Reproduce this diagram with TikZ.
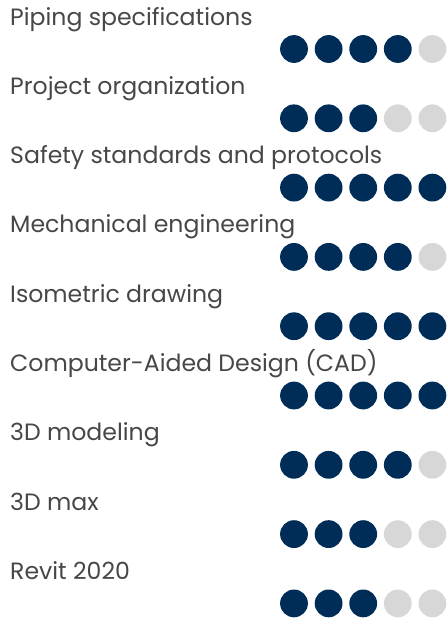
\documentclass[tikz,border=0pt]{standalone}
\usepackage{fontspec}
\setmainfont{Poppins}
\definecolor{navy}{HTML}{002D57}
\definecolor{lgray}{HTML}{D6D7D6}
\definecolor{txt}{HTML}{474747}
\begin{document}
\begin{tikzpicture}[x=1pt,y=-1pt,
  label/.style={anchor=base west,inner sep=0pt,text=txt,font=\fontsize{23.6}{23.6}\selectfont},
  on/.style={circle,fill=navy,minimum size=27.8pt,inner sep=0pt},
  off/.style={circle,fill=lgray,minimum size=27.8pt,inner sep=0pt}]
\useasboundingbox (0,0) rectangle (447,619);
\foreach \t/\n [count=\k] in {Piping specifications/4,Project organization/3,Safety standards and protocols/5,Mechanical engineering/4,Isometric drawing/5,Computer-Aided Design (CAD)/5,3D modeling/4,3D max/3,Revit 2020/3}{
  \node[label] (t\k) at (10,{25+(\k-1)*69.3}) {\t};
  \foreach \i in {1,...,5}{
    \ifnum\i>\n
      \node[off] (d\k\i) at ({294+(\i-1)*34.6},{49+(\k-1)*69.3}) {};
    \else
      \node[on] (d\k\i) at ({294+(\i-1)*34.6},{49+(\k-1)*69.3}) {};
    \fi
  }
}
\end{tikzpicture}
\end{document}
